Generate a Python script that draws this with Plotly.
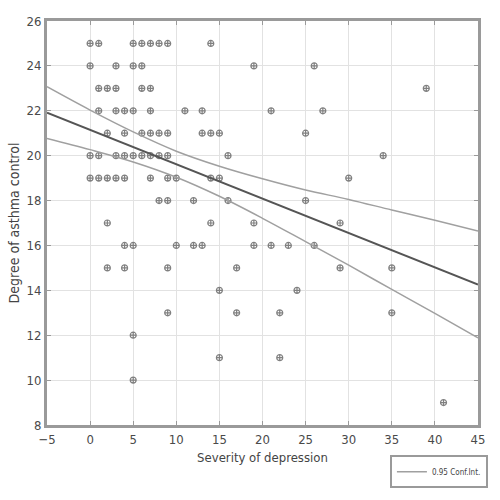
import plotly.graph_objects as go

severity = [0, 1, 5, 6, 7, 8, 9, 14,
            0, 3, 5, 6, 19, 26,
            1, 2, 3, 6, 7, 39,
            1, 3, 4, 5, 7, 11, 13, 21, 27,
            2, 4, 6, 7, 8, 9, 13, 14, 15, 25,
            0, 1, 3, 4, 5, 6, 7, 8, 9, 16, 34,
            0, 1, 2, 3, 4, 7, 9, 10, 14, 15, 30,
            8, 9, 12, 16, 25,
            2, 14, 19, 29,
            4, 5, 10, 12, 13, 19, 21, 23, 26,
            2, 4, 9, 17, 29, 35,
            15, 24,
            9, 17, 22, 35,
            5,
            15, 22,
            5,
            41]
control = [25] * 8 + [24] * 6 + [23] * 6 + [22] * 9 + [21] * 10 + [20] * 11 \
    + [19] * 11 + [18] * 5 + [17] * 4 + [16] * 9 + [15] * 6 + [14] * 2 \
    + [13] * 4 + [12] + [11] * 2 + [10] + [9]

# regression line and 95% confidence band
fit_x = [-5, 45]
fit_y = [21.92, 14.26]
band_x = [-5, 0, 5, 10, 15, 20, 25, 30, 35, 40, 45]
band_hi = [23.07, 22.03, 21.06, 20.20, 19.53, 18.97, 18.47, 18.05, 17.58, 17.12, 16.64]
band_lo = [20.77, 20.27, 19.72, 19.04, 18.19, 17.21, 16.17, 15.12, 14.04, 12.97, 11.88]

x_ticks = [-5, 0, 5, 10, 15, 20, 25, 30, 35, 40, 45]
y_ticks = [8, 10, 12, 14, 16, 18, 20, 22, 24, 26]

font_narrow = "Liberation Sans Narrow, DejaVu Sans Condensed, Arial Narrow, sans-serif"

fig = go.Figure()

fig.add_trace(go.Scatter(
    x=severity, y=control, mode='markers', showlegend=False,
    marker=dict(symbol='circle-cross-open', size=6, color='#808080',
                line=dict(width=1.2, color='#808080'))
))
fig.add_trace(go.Scatter(
    x=band_x, y=band_hi, mode='lines', name='0.95 Conf.Int.',
    line=dict(color='#a0a0a0', width=1.5, shape='spline'), legendgroup='ci'
))
fig.add_trace(go.Scatter(
    x=band_x, y=band_lo, mode='lines', showlegend=False,
    line=dict(color='#a0a0a0', width=1.5, shape='spline'), legendgroup='ci'
))
fig.add_trace(go.Scatter(
    x=fit_x, y=fit_y, mode='lines', showlegend=False,
    line=dict(color='#555555', width=2)
))

axis_style = dict(
    showline=True, linecolor='#9a9a9a', linewidth=3, mirror='ticks',
    ticks='inside', ticklen=4, tickcolor='#9a9a9a',
    showgrid=True, gridcolor='#e2e2e2', gridwidth=1, zeroline=False,
    tickfont=dict(family=font_narrow, size=13, color='#4a4a4a'),
)

fig.update_layout(
    width=500, height=500,
    margin=dict(l=47, r=18, t=21, b=64),
    paper_bgcolor='white', plot_bgcolor='white',
    xaxis=dict(range=[-5, 45], tickvals=x_ticks,
               title=dict(text='Severity of depression', standoff=8,
                          font=dict(family=font_narrow, size=13, color='#444444')),
               **axis_style),
    yaxis=dict(range=[8, 26], tickvals=y_ticks,
               title=dict(text='Degree of asthma control', standoff=4,
                          font=dict(family=font_narrow, size=14, color='#444444')),
               **axis_style),
    legend=dict(x=1.023, y=-0.075, xanchor='right', yanchor='top',
                bordercolor='#9a9a9a', borderwidth=2, bgcolor='white',
                font=dict(family=font_narrow, size=8, color='#444444'),
                itemwidth=30, tracegroupgap=0),
)

# page body has a default 8px margin; drop it so the figure sits at 0,0
fig.write_html("out.html", config={'displayModeBar': False},
               post_script="document.body.style.margin='0';")
